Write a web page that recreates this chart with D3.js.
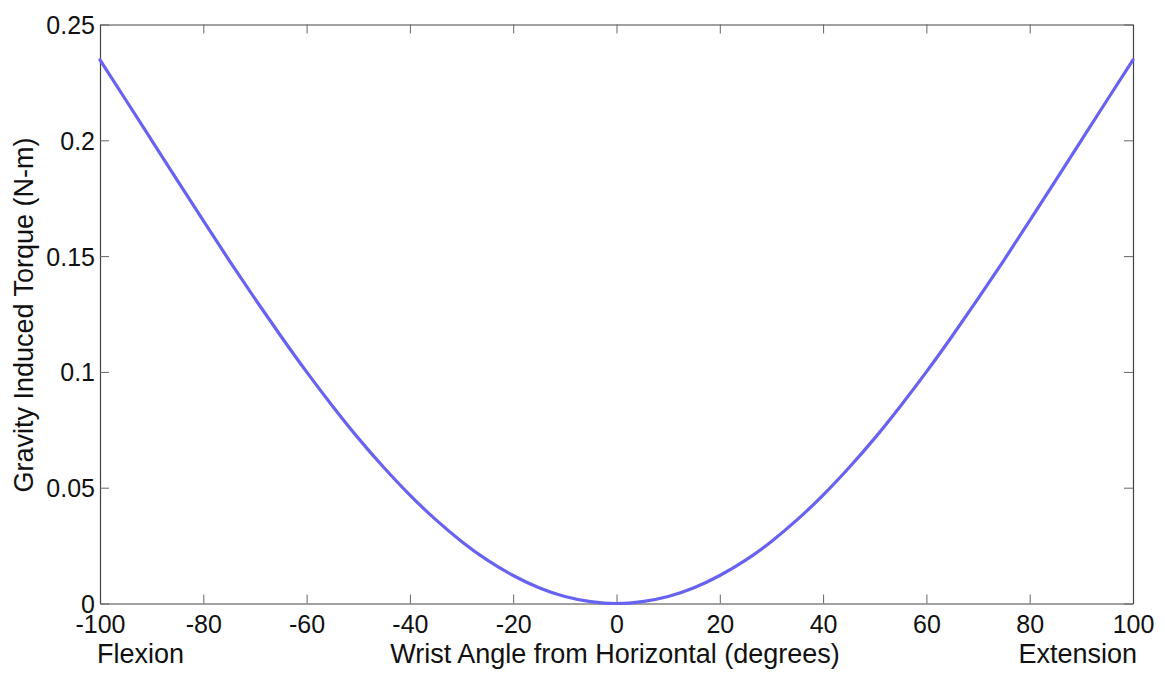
<!DOCTYPE html>
<html>
<head>
<meta charset="utf-8">
<script src="https://cdn.jsdelivr.net/npm/d3@7"></script>
<style>
  html, body { margin: 0; padding: 0; background: #fff; }
  svg { display: block; font-family: "Liberation Sans", Arial, sans-serif; }
</style>
</head>
<body>
<svg id="chart" width="1165" height="674"></svg>
<script>
// Wrist angle (degrees) and the gravity-induced torque (N-m) at each angle
const angles = [-100, -95, -90, -85, -80, -75, -70, -65, -60, -55, -50, -45, -40, -35, -30, -25, -20, -15, -10, -5,
                0, 5, 10, 15, 20, 25, 30, 35, 40, 45, 50, 55, 60, 65, 70, 75, 80, 85, 90, 95, 100];
const torque = [0.2347, 0.2174, 0.2000, 0.1826, 0.1653, 0.1482, 0.1316, 0.1155, 0.1000, 0.0853, 0.0714, 0.0586, 0.0468, 0.0362, 0.0268, 0.0187, 0.0121, 0.0068, 0.0030, 0.0008,
                0.0000, 0.0008, 0.0030, 0.0068, 0.0121, 0.0187, 0.0268, 0.0362, 0.0468, 0.0586, 0.0714, 0.0853, 0.1000, 0.1155, 0.1316, 0.1482, 0.1653, 0.1826, 0.2000, 0.2174, 0.2347];

const xTicks = [-100, -80, -60, -40, -20, 0, 20, 40, 60, 80, 100];
const yTicks = [0, 0.05, 0.1, 0.15, 0.2, 0.25];
const yTickLabels = ["0", "0.05", "0.1", "0.15", "0.2", "0.25"];

const svg = d3.select("#chart");
const plotLeft = 100, plotRight = 1133, plotTop = 24.5, plotBottom = 603.5;

const x = d3.scaleLinear().domain([-100, 100]).range([plotLeft, plotRight]);
const y = d3.scaleLinear().domain([0, 0.25]).range([plotBottom, plotTop]);

const tickLen = 9;
const axisColor = "#444";

// bottom axis with labels, ticks pointing into the plot
const gx = svg.append("g").attr("transform", `translate(0,${plotBottom})`)
  .call(d3.axisBottom(x).tickValues(xTicks).tickSizeInner(-tickLen).tickSizeOuter(0).tickPadding(11)
    .tickFormat(d => d));
// top axis, ticks only
const gxt = svg.append("g").attr("transform", `translate(0,${plotTop})`)
  .call(d3.axisTop(x).tickValues(xTicks).tickSizeInner(-tickLen).tickSizeOuter(0).tickFormat(""));
// left axis with labels
const gy = svg.append("g").attr("transform", `translate(${plotLeft},0)`)
  .call(d3.axisLeft(y).tickValues(yTicks).tickSizeInner(-tickLen).tickSizeOuter(0).tickPadding(5)
    .tickFormat((d, i) => yTickLabels[i]));
// right axis, ticks only
const gyr = svg.append("g").attr("transform", `translate(${plotRight},0)`)
  .call(d3.axisRight(y).tickValues(yTicks).tickSizeInner(-tickLen).tickSizeOuter(0).tickFormat(""));

[gx, gxt, gy, gyr].forEach(g => {
  g.select(".domain").attr("stroke", axisColor).attr("stroke-width", 1.2);
  g.selectAll(".tick line").attr("stroke", "#666").attr("stroke-width", 1);
  g.selectAll(".tick text").attr("fill", "#111").style("font-size", "25px")
    .style("font-family", "'Liberation Sans', Arial, sans-serif");
});
gx.selectAll(".tick text").attr("dy", "0.72em");
gy.selectAll(".tick text").attr("dy", "0.36em");

// torque curve
const line = d3.line().x((d, i) => x(angles[i])).y(d => y(d)).curve(d3.curveNatural);
svg.append("path")
  .datum(torque)
  .attr("d", line)
  .attr("fill", "none")
  .attr("stroke", "#6862f0")
  .attr("stroke-width", 3.2)
  .attr("stroke-linejoin", "round")
  .attr("stroke-linecap", "round");

// axis titles
const labelStyle = sel => sel.attr("fill", "#111").style("font-size", "27px");
svg.append("text").attr("x", 97).attr("y", 663).text("Flexion").call(labelStyle);
svg.append("text").attr("x", 615).attr("y", 663).attr("text-anchor", "middle")
  .text("Wrist Angle from Horizontal (degrees)").call(labelStyle);
svg.append("text").attr("x", 1137).attr("y", 663).attr("text-anchor", "end")
  .text("Extension").call(labelStyle);
svg.append("text").attr("transform", "translate(33,315) rotate(-90)").attr("text-anchor", "middle")
  .text("Gravity Induced Torque (N-m)").call(labelStyle);
</script>
</body>
</html>
